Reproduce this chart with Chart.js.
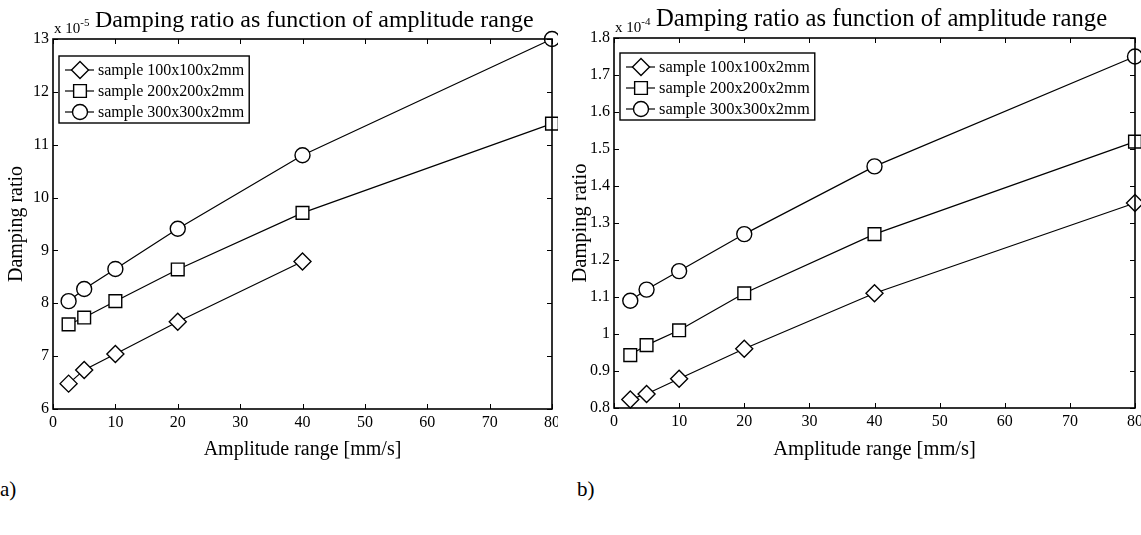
<!DOCTYPE html>
<html>
<head>
<meta charset="utf-8">
<script src="https://cdn.jsdelivr.net/npm/chart.js@4.4.1/dist/chart.umd.min.js"></script>
<style>
  body { margin: 0; background: #fff; width: 1141px; height: 535px; position: relative; overflow: hidden; font-family: "Liberation Serif", serif; }
  .panel { position: absolute; top: 0; height: 460px; overflow: hidden; }
  .inner { position: absolute; left: 0; top: 0; height: 460px; }
  #panelA { left: 0; width: 558px; }
  #panelA .inner { width: 564px; }
  #panelB { left: 570px; width: 571px; }
  #panelB .inner { width: 577px; }
  .tag { position: absolute; top: 477px; font-size: 21px; color: #000; }
</style>
</head>
<body>
<div class="panel" id="panelA"><div class="inner"><canvas id="chartA"></canvas></div></div>
<div class="panel" id="panelB"><div class="inner"><canvas id="chartB"></canvas></div></div>
<div class="tag" style="left:0px">a)</div>
<div class="tag" style="left:577px">b)</div>

<script>
// data
const amplitude = [2.5, 5, 10, 20, 40, 80];
const sampleLabels = ["sample 100x100x2mm", "sample 200x200x2mm", "sample 300x300x2mm"];

// a) damping ratio, x 10^-5
const dampA100 = [6.48, 6.74, 7.04, 7.65, 8.79];
const dampA200 = [7.60, 7.73, 8.04, 8.64, 9.71, 11.4];
const dampA300 = [8.04, 8.27, 8.65, 9.41, 10.8, 13.0];

// b) damping ratio, x 10^-4
const dampB100 = [0.823, 0.838, 0.879, 0.960, 1.110, 1.354];
const dampB200 = [0.943, 0.970, 1.010, 1.110, 1.270, 1.520];
const dampB300 = [1.090, 1.120, 1.170, 1.270, 1.453, 1.750];

const xRange = [0, 80, 10];
const yRangeA = [6, 13, 1];
const yRangeB = [0.8, 1.8, 0.1];

const chartTitle = "Damping ratio as function of amplitude range";
const xTitle = "Amplitude range [mm/s]";
const yTitle = "Damping ratio";

const markerStyles = ["rectRot", "rect", "circle"];
const markerSizes = [8.5, 9, 7.5];

Chart.defaults.font.family = "'Liberation Serif', 'Times New Roman', serif";
Chart.defaults.color = "#000";

// same geometry as chart.js point styles, used for the legend
function drawMarker(ctx, style, r, x, y) {
  ctx.beginPath();
  if (style === "circle") {
    ctx.arc(x, y, r, 0, Math.PI * 2);
  } else if (style === "rect") {
    const s = r * Math.SQRT1_2;
    ctx.rect(x - s, y - s, 2 * s, 2 * s);
  } else {
    ctx.moveTo(x, y - r);
    ctx.lineTo(x + r, y);
    ctx.lineTo(x, y + r);
    ctx.lineTo(x - r, y);
    ctx.closePath();
  }
  ctx.fill();
  ctx.stroke();
}

// box, inward ticks, title with exponent and boxed legend
const matlabFrame = {
  id: "matlabFrame",
  afterDraw(chart, args, opts) {
    const { ctx, chartArea: a, scales: { x, y } } = chart;
    ctx.save();
    ctx.strokeStyle = "#000";
    ctx.lineWidth = 1;
    ctx.beginPath();
    x.ticks.forEach(t => {
      const px = Math.round(x.getPixelForValue(t.value)) + 0.5;
      ctx.moveTo(px, a.bottom); ctx.lineTo(px, a.bottom - 5);
      ctx.moveTo(px, a.top); ctx.lineTo(px, a.top + 5);
    });
    y.ticks.forEach(t => {
      const py = Math.round(y.getPixelForValue(t.value)) + 0.5;
      ctx.moveTo(a.left, py); ctx.lineTo(a.left + 5, py);
      ctx.moveTo(a.right, py); ctx.lineTo(a.right - 5, py);
    });
    ctx.stroke();
    ctx.lineWidth = 1.6;
    ctx.strokeRect(a.left, a.top, a.right - a.left, a.bottom - a.top);

    // exponent and title
    ctx.fillStyle = "#000";
    ctx.textBaseline = "alphabetic";
    ctx.textAlign = "left";
    ctx.font = opts.expSize + "px 'Liberation Serif'";
    ctx.fillText("x 10", a.left + 1, a.top - 6);
    const w = ctx.measureText("x 10").width;
    ctx.font = Math.round(opts.expSize * 0.72) + "px 'Liberation Serif'";
    ctx.fillText(opts.exponent, a.left + 1 + w, a.top - 13);
    ctx.font = opts.titleSize + "px 'Liberation Serif'";
    ctx.fillText(opts.title, a.left + 42, a.top - 12);

    // legend
    ctx.font = opts.legendSize + "px 'Liberation Serif'";
    const bx = a.left + 6, by = a.top + opts.legendTop;
    let tw = 0;
    chart.data.datasets.forEach(ds => { tw = Math.max(tw, ctx.measureText(ds.label).width); });
    ctx.fillStyle = "#fff";
    ctx.fillRect(bx, by, 39 + tw + 5, 67);
    ctx.lineWidth = 1.4;
    ctx.strokeRect(bx, by, 39 + tw + 5, 67);
    ctx.textBaseline = "middle";
    chart.data.datasets.forEach((ds, i) => {
      const ly = by + 14 + 21 * i;
      ctx.lineWidth = 1.2;
      ctx.beginPath();
      ctx.moveTo(bx + 6, ly); ctx.lineTo(bx + 35, ly);
      ctx.stroke();
      ctx.fillStyle = "#fff";
      ctx.lineWidth = 1.4;
      drawMarker(ctx, ds.pointStyle, ds.pointRadius, bx + 21, ly);
      ctx.fillStyle = "#000";
      ctx.fillText(ds.label, bx + 39, ly + 1);
    });
    ctx.restore();
  }
};

function makeDatasets(series) {
  return series.map((vals, i) => ({
    label: sampleLabels[i],
    data: vals.map((v, k) => ({ x: amplitude[k], y: v })),
    borderColor: "#000",
    borderWidth: 1.2,
    backgroundColor: "#fff",
    pointStyle: markerStyles[i],
    pointRadius: markerSizes[i],
    pointBorderWidth: 1.4,
    pointBackgroundColor: "#fff",
    pointBorderColor: "#000",
    pointHoverRadius: markerSizes[i],
    tension: 0,
    clip: false
  }));
}

function makeChart(canvasId, series, yRange, cfg) {
  return new Chart(document.getElementById(canvasId), {
    type: "line",
    data: { datasets: makeDatasets(series) },
    options: {
      responsive: true,
      maintainAspectRatio: false,
      animation: false,
      layout: { padding: { top: cfg.top, right: 5, left: 0, bottom: 0 } },
      plugins: {
        legend: { display: false },
        tooltip: { enabled: false },
        matlabFrame: {
          title: chartTitle,
          exponent: cfg.exponent,
          titleSize: cfg.titleSize,
          expSize: 15,
          legendSize: cfg.legendSize,
          legendTop: cfg.legendTop
        }
      },
      scales: {
        x: {
          type: "linear",
          min: xRange[0],
          max: xRange[1],
          grid: { display: false, drawTicks: false },
          border: { display: false },
          ticks: { stepSize: xRange[2], padding: 4, maxRotation: 0, autoSkip: false, font: { size: cfg.tickSize } },
          title: { display: true, text: xTitle, font: { size: cfg.axisTitleSize, lineHeight: 1 }, padding: { top: 8, bottom: 0 } },
          afterFit: s => { s.height = cfg.xHeight; }
        },
        y: {
          type: "linear",
          min: yRange[0],
          max: yRange[1],
          grid: { display: false, drawTicks: false },
          border: { display: false },
          ticks: {
            stepSize: yRange[2],
            padding: 4,
            autoSkip: false,
            font: { size: cfg.tickSize },
            callback: v => String(Number(v.toFixed(1)))
          },
          title: { display: true, text: yTitle, font: { size: cfg.axisTitleSize, lineHeight: 1 }, padding: { top: cfg.yTitlePad, bottom: 0 } },
          afterFit: s => { s.width = cfg.yWidth; }
        }
      }
    },
    plugins: [matlabFrame]
  });
}

makeChart("chartA", [dampA100, dampA200, dampA300], yRangeA, {
  top: 39, yWidth: 53, xHeight: 51, exponent: "-5",
  titleSize: 24, legendSize: 16, legendTop: 17, tickSize: 16,
  axisTitleSize: 20, yTitlePad: 7
});

makeChart("chartB", [dampB100, dampB200, dampB300], yRangeB, {
  top: 38, yWidth: 44, xHeight: 52, exponent: "-4",
  titleSize: 24.7, legendSize: 16.5, legendTop: 15, tickSize: 16,
  axisTitleSize: 20.5, yTitlePad: 0
});
</script>
</body>
</html>
